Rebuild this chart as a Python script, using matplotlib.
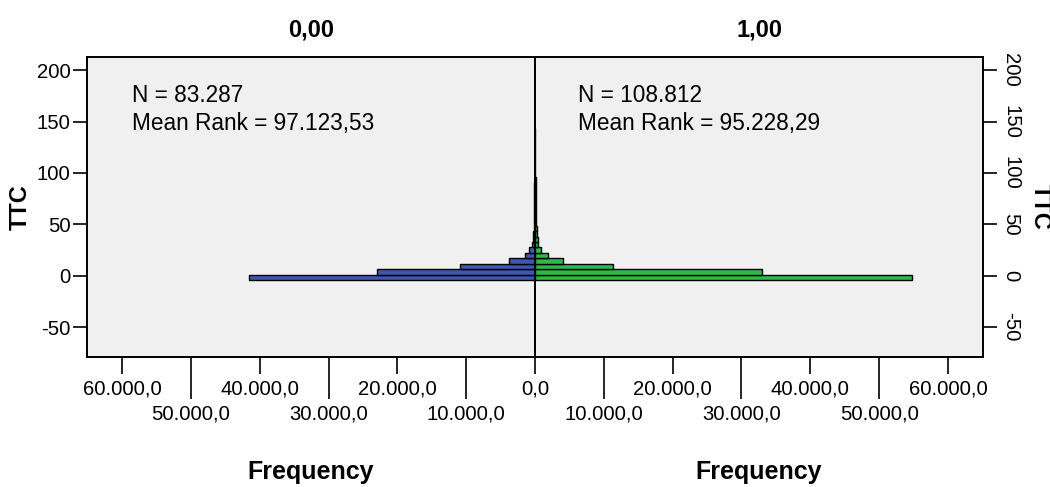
import matplotlib
matplotlib.use("Agg")
import matplotlib.pyplot as plt
import numpy as np

# TTC bins (lower edge of first bin, bin width) and frequencies per group
bin_start = -4.1
bin_width = 5.27
freq_0 = [41600, 22900, 10900, 3720, 1450, 830, 480,
          300, 220, 160, 130, 110, 95, 85, 75, 160, 190, 150,
          70, 55, 45, 35, 25, 20, 15, 12, 8, 5]
freq_1 = [54800, 33000, 11300, 4100, 1930, 830, 480,
          400, 330, 260, 210, 180, 150, 130, 120, 180, 200, 160,
          90, 70, 55, 40, 30, 22, 18, 12, 8, 5]

groups = ["0,00", "1,00"]
n_text = ["N = 83.287", "N = 108.812"]
rank_text = ["Mean Rank = 97.123,53", "Mean Rank = 95.228,29"]

y_ticks = [-50, 0, 50, 100, 150, 200]
x_major = [0, 20000, 40000, 60000]
x_major_labels = ["0,0", "20.000,0", "40.000,0", "60.000,0"]
x_minor = [10000, 30000, 50000]
x_minor_labels = ["10.000,0", "30.000,0", "50.000,0"]

BLUE = "#3e58ac"
GREEN = "#2eb848"

plt.rcParams.update({
    "font.family": ["Liberation Sans", "DejaVu Sans"],
    "axes.unicode_minus": False,
    "axes.linewidth": 1.4,
    "xtick.major.width": 1.2,
    "xtick.minor.width": 1.2,
    "ytick.major.width": 1.2,
})

fig = plt.figure(figsize=(10.5, 4.87), dpi=100)
left, mid, right = 87 / 1050, 535 / 1050, 983 / 1050
bottom, top = 1 - 357 / 487, 1 - 57.3 / 487
ax0 = fig.add_axes([left, bottom, mid - left, top - bottom])
ax1 = fig.add_axes([mid, bottom, right - mid, top - bottom], sharey=ax0)

edges = bin_start + bin_width * np.arange(len(freq_0))
xmax = 65100

for i, (ax, freq, color) in enumerate(zip((ax0, ax1), (freq_0, freq_1), (BLUE, GREEN))):
    ax.set_facecolor("#f0f0f0")
    ax.barh(edges, freq, height=bin_width, align="edge", color=color,
            edgecolor="black", linewidth=1.0, zorder=2)
    ax.axvline(0, color="black", linewidth=1.4, zorder=3)
    ax.set_ylim(-79, 212.5)
    ax.set_title(groups[i], fontsize=17, fontweight="bold", pad=15)
    tx = 0.1 if i == 0 else 0.096
    ax.text(tx, 0.851, n_text[i], transform=ax.transAxes, fontsize=16.3, va="baseline")
    ax.text(tx, 0.759, rank_text[i], transform=ax.transAxes, fontsize=16.3, va="baseline")

    maj = x_major if i == 0 else x_major[1:]
    maj_lab = x_major_labels if i == 0 else x_major_labels[1:]
    ax.set_xticks(maj)
    ax.set_xticklabels(maj_lab)
    ax.set_xticks(x_minor, minor=True)
    ax.set_xticklabels(x_minor_labels, minor=True)
    ax.tick_params(axis="x", which="major", direction="out", length=12, pad=4, labelsize=14.6)
    ax.tick_params(axis="x", which="minor", direction="out", length=30, pad=4, labelsize=14.6)
    ax.set_xlabel("Frequency", fontsize=18, fontweight="bold", va="center")
    ax.xaxis.set_label_coords(0.5, -0.383)

ax0.set_xlim(xmax, 0)
ax1.set_xlim(0, xmax)

ax0.set_yticks(y_ticks)
ax0.tick_params(axis="y", direction="out", length=10, pad=2, labelsize=14.6)
ax0.set_ylabel("TTC", fontsize=17, fontweight="bold", va="center")
ax0.yaxis.set_label_coords(-0.148, 0.5)

ax1.yaxis.tick_right()
ax1.tick_params(axis="y", direction="out", length=10, pad=3, labelsize=14.6,
                labelrotation=-90, left=False, labelleft=False)
for lab in ax1.get_yticklabels():
    lab.set_va("center")
ax1.yaxis.set_label_position("right")
ax1.set_ylabel("TTC", fontsize=17, fontweight="bold", rotation=-90, va="center")
ax1.yaxis.set_label_coords(1.127, 0.5)

fig.savefig("out.png", dpi=100, facecolor="white")
